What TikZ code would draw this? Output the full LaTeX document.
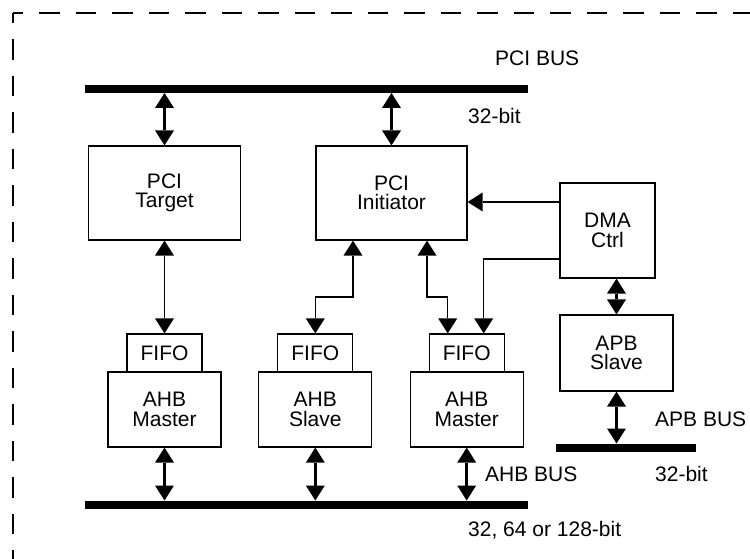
\documentclass[tikz,border=0pt]{standalone}
\usepackage{fontspec}
\setmainfont{Liberation Sans}
\usetikzlibrary{arrows.meta}

\begin{document}
\begin{tikzpicture}[
        x=1pt, y=-1pt,
        >={Triangle[length=15pt, width=19pt, line width=0pt]},
        block/.style={draw, line width=1.2pt, inner sep=0pt, align=center, font=\fontsize{21}{19.5}\selectfont},
        bus/.style={fill=black, inner sep=0pt, outer sep=0pt, minimum height=8pt},
        bus link/.style={<->, line width=3.2pt},
        link/.style={line width=1.3pt},
        bus label/.style={anchor=base west, inner sep=0pt, font=\fontsize{21}{19.5}\selectfont},
        frame/.style={line width=1.3pt, dash pattern=on 20.5pt off 16pt, dash phase=10.25pt},
    ]
    \useasboundingbox (0,0) rectangle (750,559);

    % Dashed border, open to the right and the bottom.
    \draw[frame] (13,13) -- (13,559);
    \draw[frame] (13,13) -- (750,13);

    % The three buses with their widths.
    \node[bus, minimum width=443pt] (pcibus) at (306.5,89) {};
    \node[bus, minimum width=443pt] (ahbbus) at (306.5,504.5) {};
    \node[bus, minimum width=140pt] (apbbus) at (626,447.5) {};

    \node[bus label] (pcibuslabel) at (495,66) {PCI BUS};
    \node[bus label] (pciwidth) at (468,123.3) {32-bit};
    \node[bus label] (ahbbuslabel) at (485,481.7) {AHB BUS};
    \node[bus label] (ahbwidth) at (468,536) {32, 64 or 128-bit};
    \node[bus label] (apbbuslabel) at (655,426) {APB BUS};
    \node[bus label] (apbwidth) at (655,481.7) {32-bit};

    % PCI side blocks.
    \node[block, minimum width=152pt, minimum height=94pt] (target) at (164.5,193) {PCI\\Target};
    \node[block, minimum width=151pt, minimum height=94pt] (initiator) at (391.5,193) {PCI\\Initiator};
    \node[block, minimum width=95pt, minimum height=95pt] (dma) at (607.5,230.5) {DMA\\Ctrl};
    \node[block, minimum width=113pt, minimum height=76pt] (apb) at (616.5,353) {APB\\Slave};

    % AHB blocks, each with its FIFO on top.
    \foreach \xc/\id/\role in {164.5/a/Master, 315.3/b/Slave, 466.7/c/Master} {
        \node[block, minimum width=75pt, minimum height=38pt] (fifo\id) at (\xc,353) {FIFO};
        \node[block, minimum width=113pt, minimum height=75pt] (ahb\id) at (\xc,409.5) {AHB\\\role};
        \draw[bus link] (ahb\id.south) -- (ahb\id.south |- ahbbus.north);
    }

    % Bus connections.
    \draw[bus link] (target.north) -- (target.north |- pcibus.south);
    \draw[bus link] (initiator.north) -- (initiator.north |- pcibus.south);
    \draw[bus link] (apb.north) -- (apb.north |- dma.south);
    \draw[bus link] (apb.south) -- (apb.south |- apbbus.north);

    % Data paths between PCI blocks and FIFOs.
    \draw[link, <->] (target.south) -- (fifoa.north);
    \draw[link, <->] ([xshift=-38.5pt]initiator.south) -- ++(0,56.5) -| (fifob.north);
    \draw[link, <->] ([xshift=35.5pt]initiator.south) -- ++(0,56.5) -| ([xshift=-19pt]fifoc.north);
    \draw[link, ->] ([yshift=-28.5pt]dma.west) -| ([xshift=17pt]fifoc.north);
    \draw[link, ->] ([yshift=28.5pt]dma.west) -- ([yshift=-9pt]initiator.east);
\end{tikzpicture}
\end{document}
